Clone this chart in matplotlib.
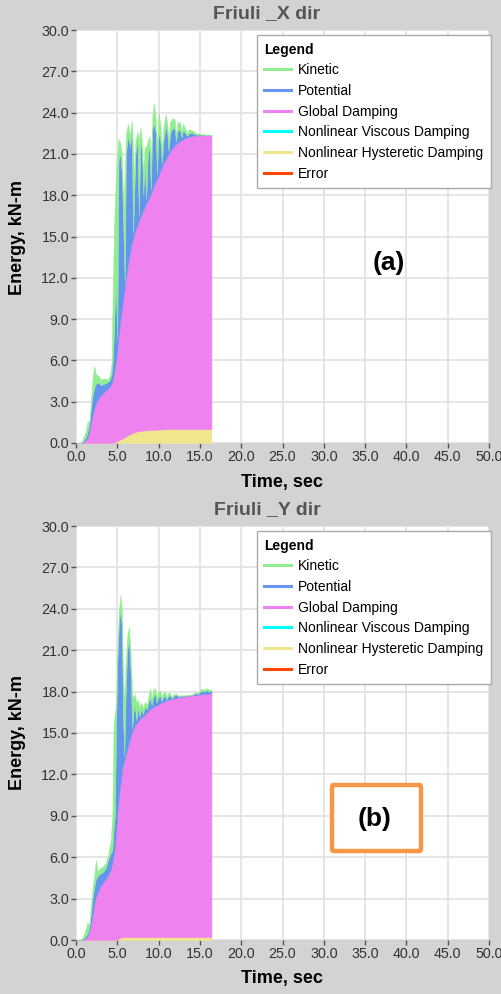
import matplotlib
matplotlib.use("Agg")
import matplotlib.pyplot as plt
import matplotlib.patches as patches
import matplotlib.lines as lines

plt.rcParams['font.family'] = ['Liberation Sans', 'DejaVu Sans']

# Stacked energy levels (kN-m), i.e. the top edge of each band:
# hyst = hysteretic, damp = + global damping, pot = + potential, kin = + kinetic

# --- Friuli X dir ---
t_x = [0.0, 0.6, 0.9, 1.2, 1.4, 1.6, 1.8, 2.0, 2.2, 2.4, 2.7, 3.0, 3.4, 3.8, 4.1,
       4.3, 4.45, 4.6, 4.8, 5.0, 5.15, 5.35, 5.55, 5.75, 5.9, 6.05, 6.3, 6.55, 6.75,
       6.9, 7.05, 7.2, 7.45, 7.6, 7.8, 8.0, 8.15, 8.3, 8.5, 8.7, 8.9, 9.05, 9.25,
       9.45, 9.65, 9.8, 10.0, 10.2, 10.4, 10.6, 10.86, 11.05, 11.2, 11.4, 11.7, 11.95,
       12.1, 12.3, 12.6, 12.8, 12.95, 13.25, 13.45, 13.7, 14.1, 14.5, 15.0, 16.4]
hyst_x = [0, 0, 0, 0, 0, 0, 0, 0, 0, 0, 0, 0, 0, 0, 0,
          0, 0.01, 0.03, 0.08, 0.15, 0.19, 0.24, 0.29, 0.36, 0.42, 0.47, 0.55, 0.63, 0.7,
          0.74, 0.77, 0.8, 0.84, 0.86, 0.88, 0.89, 0.9, 0.91, 0.91, 0.92, 0.93, 0.93, 0.94,
          0.95, 0.96, 0.96, 0.97, 0.98, 0.98, 0.99, 1.0, 1.0, 1.0, 1.0, 1.0, 1.0,
          1.0, 1.0, 1.0, 1.0, 1.0, 1.0, 1.0, 1.0, 1.0, 1.0, 1.0, 1.0]
damp_x = [0, 0, 0.05, 0.2, 0.4, 0.8, 1.4, 2.0, 2.5, 2.9, 3.2, 3.45, 3.7, 3.9, 4.1,
          4.3, 4.6, 5.0, 5.8, 6.8, 7.7, 8.8, 9.7, 10.6, 11.3, 12.0, 13.0, 13.9, 14.5,
          14.8, 15.2, 15.5, 15.9, 16.1, 16.4, 16.7, 16.9, 17.1, 17.4, 17.6, 17.9, 18.1, 18.4,
          18.7, 19.0, 19.2, 19.4, 19.8, 20.0, 20.3, 20.6, 20.8, 21.0, 21.2, 21.45, 21.6,
          21.7, 21.8, 21.95, 22.0, 22.05, 22.15, 22.2, 22.25, 22.3, 22.33, 22.35, 22.35]
pot_x = [0, 0, 0.15, 0.4, 0.8, 1.3, 2.4, 3.4, 4.0, 4.3, 4.4, 4.2, 4.3, 4.4, 4.6,
         5.0, 6.0, 8.0, 12.0, 7.5, 20.5, 21.0, 19.5, 15.0, 11.6, 21.0, 22.3, 21.5, 22.8,
         15.2, 18.0, 21.0, 22.0, 16.4, 22.0, 21.0, 18.0, 20.5, 17.7, 21.0, 21.5, 18.4, 22.8,
         23.2, 22.5, 19.5, 22.5, 22.0, 20.3, 22.0, 23.0, 22.5, 21.2, 22.5, 22.9, 22.8,
         21.9, 22.7, 22.7, 22.2, 22.7, 22.5, 22.3, 22.5, 22.5, 22.4, 22.4, 22.36]
kin_x = [0, 0, 0.4, 0.9, 1.6, 1.5, 3.0, 4.6, 5.6, 5.0, 4.9, 4.6, 4.7, 4.6, 4.9,
         5.8, 11.0, 15.5, 19.0, 21.0, 22.1, 21.8, 21.0, 17.0, 19.5, 22.5, 23.2, 22.3, 23.45,
         21.5, 19.0, 22.0, 22.6, 22.0, 22.9, 21.8, 18.8, 21.5, 21.5, 22.0, 22.3, 20.5, 23.8,
         24.7, 23.5, 21.5, 24.0, 23.2, 21.3, 23.0, 23.9, 23.2, 22.0, 23.3, 23.6, 23.5,
         22.4, 23.3, 23.3, 22.6, 23.2, 22.8, 22.5, 22.8, 22.7, 22.5, 22.45, 22.37]

# --- Friuli Y dir ---
t_y = [0.0, 0.6, 0.9, 1.2, 1.4, 1.6, 1.8, 2.0, 2.2, 2.4, 2.6, 2.9, 3.2, 3.6, 3.9,
       4.2, 4.4, 4.55, 4.7, 4.85, 5.0, 5.2, 5.4, 5.55, 5.7, 5.85, 6.0, 6.2, 6.4, 6.6,
       6.8, 6.95, 7.1, 7.3, 7.5, 7.7, 7.9, 8.1, 8.35, 8.6, 8.8, 9.0, 9.15, 9.35, 9.6,
       9.75, 9.95, 10.2, 10.35, 10.55, 10.8, 10.95, 11.15, 11.4, 11.6, 11.85, 12.2,
       12.4, 12.7, 13.0, 13.5, 14.0, 14.5, 14.8, 15.1, 15.5, 15.8, 16.1, 16.4]
hyst_y = [0, 0, 0, 0, 0, 0, 0, 0, 0, 0, 0, 0, 0, 0, 0,
          0, 0, 0, 0, 0, 0.05, 0.1, 0.15, 0.2, 0.2, 0.2, 0.2, 0.2, 0.2, 0.2,
          0.2, 0.2, 0.2, 0.2, 0.2, 0.2, 0.2, 0.2, 0.2, 0.2, 0.2, 0.2, 0.2, 0.2, 0.2,
          0.2, 0.2, 0.2, 0.2, 0.2, 0.2, 0.2, 0.2, 0.2, 0.2, 0.2, 0.2,
          0.2, 0.2, 0.2, 0.2, 0.2, 0.2, 0.2, 0.2, 0.2, 0.2, 0.2, 0.2]
damp_y = [0, 0, 0.05, 0.15, 0.3, 0.6, 1.1, 1.8, 2.6, 3.1, 3.4, 3.8, 4.1, 4.4, 4.7,
          5.1, 5.6, 6.1, 6.8, 7.9, 9.2, 10.4, 11.4, 12.2, 12.7, 13.0, 13.4, 13.8, 14.3, 14.7,
          15.1, 15.3, 15.5, 15.7, 15.8, 16.0, 16.1, 16.2, 16.35, 16.5, 16.6, 16.75, 16.8,
          16.9, 16.95, 17.0, 17.05, 17.15, 17.2, 17.25, 17.3, 17.35, 17.4, 17.42, 17.46,
          17.5, 17.55, 17.58, 17.6, 17.65, 17.7, 17.72, 17.75, 17.76, 17.8, 17.82, 17.84,
          17.86, 17.9]
pot_y = [0, 0, 0.1, 0.3, 0.5, 0.9, 1.8, 3.0, 3.8, 4.4, 4.6, 4.8, 4.9, 5.2, 5.8,
         6.3, 6.5, 8.0, 9.0, 15.0, 20.0, 23.0, 24.0, 22.5, 16.0, 13.3, 17.5, 21.0, 21.8, 19.5,
         15.3, 16.5, 17.0, 15.9, 16.8, 16.2, 16.8, 16.35, 16.9, 16.7, 17.3, 17.5, 17.0,
         17.6, 17.8, 17.2, 17.6, 17.7, 17.3, 17.6, 17.7, 17.4, 17.7, 17.7, 17.5,
         17.7, 17.75, 17.62, 17.7, 17.7, 17.72, 17.75, 17.9, 17.82, 18.05, 18.0, 18.1,
         18.0, 18.05]
kin_y = [0, 0, 0.3, 0.9, 1.3, 1.0, 2.5, 3.8, 4.6, 5.8, 5.0, 5.2, 5.3, 5.6, 6.2,
         7.2, 9.0, 15.5, 16.5, 17.0, 21.0, 24.0, 25.0, 24.0, 19.0, 17.5, 20.0, 22.0, 22.7, 21.0,
         17.8, 17.5, 17.9, 17.2, 17.4, 16.9, 17.2, 16.8, 17.3, 17.0, 17.8, 18.25, 17.5,
         18.1, 18.25, 17.6, 18.0, 18.1, 17.6, 17.9, 18.0, 17.6, 17.9, 17.9, 17.6,
         17.85, 17.85, 17.7, 17.75, 17.72, 17.74, 17.76, 17.95, 17.9, 18.2, 18.15, 18.25,
         18.15, 18.15]

legend_labels = ["Kinetic", "Potential", "Global Damping", "Nonlinear Viscous Damping",
                 "Nonlinear Hysteretic Damping", "Error"]
legend_colors = ["#90ee90", "#6495ed", "#ee82ee", "#00ffff", "#f0e68c", "#ff4500"]
x_ticks = [0.0, 5.0, 10.0, 15.0, 20.0, 25.0, 30.0, 35.0, 40.0, 45.0, 50.0]
y_ticks = [0.0, 3.0, 6.0, 9.0, 12.0, 15.0, 18.0, 21.0, 24.0, 27.0, 30.0]

BG = "#d3d3d3"


def draw_panel(ax, t, hyst, damp, pot, kin, title):
    # bands from the bottom: hysteretic, global damping, potential, kinetic
    bands = [([0] * len(t), hyst, "#f0e68c"), (hyst, damp, "#ee82ee"),
             (damp, pot, "#6495ed"), (pot, kin, "#90ee90")]
    for lo, hi, c in bands:
        ax.fill_between(t, lo, hi, facecolor=c, edgecolor=c, linewidth=0.3)

    ax.set_xlim(0, 50)
    ax.set_ylim(0, 30)
    ax.set_xticks(x_ticks)
    ax.set_yticks(y_ticks)
    ax.set_xticklabels(["%.1f" % v for v in x_ticks])
    ax.set_yticklabels(["%.1f" % v for v in y_ticks])
    ax.set_axisbelow(True)
    ax.grid(True, color="#e3e3e3", linewidth=1.3)
    for s in ax.spines.values():
        s.set_visible(False)
    ax.tick_params(direction="out", length=3.5, width=1, color="#555555",
                   labelsize=10.3, labelcolor="#333333", pad=1.5)
    ax.set_title(title, fontsize=14, fontweight="bold", color="#555555",
                 x=0.4625, pad=8.5)

    handles = [lines.Line2D([], [], color=c, linewidth=2.2) for c in legend_colors]
    leg = ax.legend(handles, legend_labels, title="Legend", loc="upper right",
                    bbox_to_anchor=(1.005, 0.988), borderaxespad=0, fontsize=10,
                    title_fontproperties={"weight": "bold", "size": 10},
                    alignment="left", fancybox=False, framealpha=1,
                    edgecolor="#aaaaaa", handlelength=1.9, handletextpad=0.55,
                    labelspacing=0.48, borderpad=0.55)
    leg.get_frame().set_linewidth(1.0)


fig = plt.figure(figsize=(5.01, 9.94), dpi=100, facecolor=BG)
W, H = 501.0, 994.0

ax1 = fig.add_axes([76 / W, 1 - 443 / H, 413 / W, 413 / H])
ax2 = fig.add_axes([76 / W, 1 - 940 / H, 413 / W, 414 / H])

draw_panel(ax1, t_x, hyst_x, damp_x, pot_x, kin_x, "Friuli _X dir")
draw_panel(ax2, t_y, hyst_y, damp_y, pot_y, kin_y, "Friuli _Y dir")

for yc, xl in [(237, 483), (733, 979)]:
    fig.text(18 / W, 1 - yc / H, "Energy, kN-m", rotation=90, ha="center",
             va="center", fontsize=13, fontweight="bold", color="black")
    fig.text(282 / W, 1 - xl / H, "Time, sec", ha="center", va="center",
             fontsize=13, fontweight="bold", color="black")

fig.text(389 / W, 1 - 263 / H, "(a)", ha="center", va="center", fontsize=19,
         fontweight="bold", color="black")

box = patches.FancyBboxPatch((332 / W, 1 - 851 / H), 89 / W, 66 / H,
                             boxstyle="round,pad=0,rounding_size=0.003",
                             transform=fig.transFigure, facecolor="white",
                             edgecolor="#f79646", linewidth=3.2)
fig.patches.append(box)
fig.text(375 / W, 1 - 819 / H, "(b)", ha="center", va="center", fontsize=19,
         fontweight="bold", color="black")

fig.savefig("out.png", dpi=100, facecolor=BG)
